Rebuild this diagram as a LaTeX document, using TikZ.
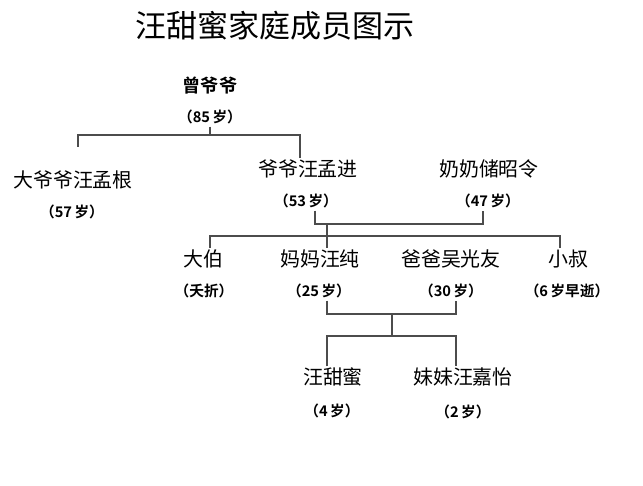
\documentclass[tikz,border=0pt]{standalone}
\usepackage{fontspec}
\newfontfamily\cjk{Noto Sans CJK SC}
\newfontfamily\cjkbold{Noto Sans CJK SC Bold}
\usetikzlibrary{positioning}

\tikzset{
    heading/.style={font=\cjk\fontsize{26.5}{30}\selectfont, inner sep=0pt},
    person/.style={font=\cjk\fontsize{17}{20}\selectfont, inner sep=1pt},
    elder/.style={font=\cjkbold\fontsize{15.5}{18}\selectfont, inner sep=1pt},
    age/.style={font=\cjkbold\fontsize{12.5}{15}\selectfont, inner sep=2pt},
    link/.style={draw=black!70, line width=1pt}
}

\begin{document}
\begin{tikzpicture}[x=0.03cm, y=-0.03cm]
    \useasboundingbox (0,0) rectangle (643,486);

    \node[heading] (title) at (275,26) {汪甜蜜家庭成员图示};

    % first generation
    \node[elder] (zyy) at (210,86) {曾爷爷};
    \node[age] (zyyage) at (210,117) {（85\,岁）};

    % second generation
    \node[person] (dyy) at (73,180) {大爷爷汪孟根};
    \node[age] (dyyage) at (72,212) {（57\,岁）};
    \node[person] (yy) at (308,169) {爷爷汪孟进};
    \node[age] (yyage) at (306,201) {（53\,岁）};
    \node[person] (nn) at (489,169) {奶奶储昭令};
    \node[age] (nnage) at (488,201) {（47\,岁）};

    % third generation
    \node[person] (dabo) at (203,259) {大伯};
    \node[age] (daboage) at (204,291) {（夭折）};
    \node[person] (mama) at (320,259) {妈妈汪纯};
    \node[age] (mamaage) at (319,291) {（25\,岁）};
    \node[person] (baba) at (451,259) {爸爸吴光友};
    \node[age] (babaage) at (451,291) {（30\,岁）};
    \node[person] (xs) at (568,259) {小叔};
    \node[age] (xsage) at (567,291) {（6\,岁早逝）};

    % fourth generation
    \node[person] (tm) at (333,377) {汪甜蜜};
    \node[age] (tmage) at (332,411) {（4\,岁）};
    \node[person] (mm) at (463,377) {妹妹汪嘉怡};
    \node[age] (mmage) at (463,412) {（2\,岁）};

    % junctions
    \coordinate (b1l) at (78,135);
    \coordinate (b1r) at (300,135);
    \coordinate (b1e) at (78,147);
    \coordinate (p1) at (315,224);
    \coordinate (p2) at (483,224);
    \coordinate (pm) at (327,224);
    \coordinate (s1) at (210,236);
    \coordinate (s2) at (560,236);
    \coordinate (c1) at (327,314);
    \coordinate (c2) at (456,314);
    \coordinate (c3) at (392,314);
    \coordinate (c4) at (392,336);
    \coordinate (d1) at (327,336);
    \coordinate (d2) at (456,336);

    \draw[link] (zyyage.south) -- (zyyage.south |- b1l);
    \draw[link] (b1e) -- (b1l) -- (b1r) -- (yy.north -| b1r);
    \draw[link] (yyage.south -| p1) -- (p1) -- (p2) -- (nnage.south -| p2);
    \draw[link] (pm) -- (mama.north -| pm);
    \draw[link] (dabo.north -| s1) -- (s1) -- (s2) -- (xs.north -| s2);
    \draw[link] (mamaage.south -| c1) -- (c1) -- (c2) -- (babaage.south -| c2);
    \draw[link] (c3) -- (c4);
    \draw[link] (tm.north -| d1) -- (d1) -- (d2) -- (mm.north -| d2);
\end{tikzpicture}
\end{document}
